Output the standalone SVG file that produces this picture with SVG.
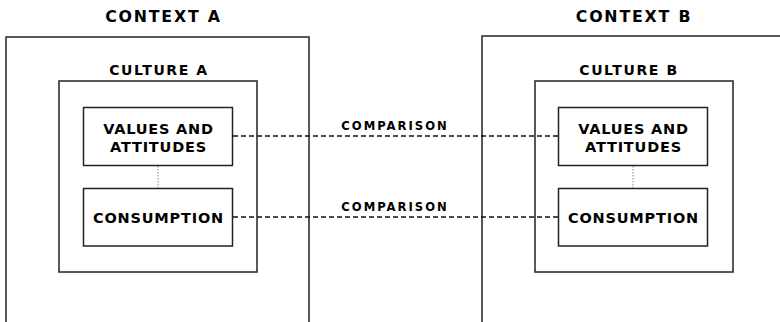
<svg xmlns="http://www.w3.org/2000/svg" width="780" height="322" viewBox="0 0 780 322">
  <style>
    .frame { fill: none; stroke: #222; stroke-width: 1.5; }
    .box { fill: #fff; stroke: #222; stroke-width: 1.5; }
    .title { font-family: "DejaVu Sans", Verdana, sans-serif; font-weight: bold; fill: #000; text-anchor: middle; }
    .h1 { font-size: 15.8px; letter-spacing: 1.8px; }
    .h2 { font-size: 14px; letter-spacing: 1.6px; }
    .lbl { font-size: 14.5px; letter-spacing: 0.8px; }
    .cmp { font-size: 11.6px; letter-spacing: 2px; }
    .dash { fill: none; stroke: #111; stroke-width: 1.5; stroke-dasharray: 5 3; }
    .dot { fill: none; stroke: #888; stroke-width: 1; stroke-dasharray: 1.5 1.5; }
  </style>

  <!-- Context A -->
  <g id="context-a">
    <path class="frame" d="M6,324 V37 H309 V324"/>
    <text class="title h1" x="163.5" y="22.3">CONTEXT A</text>
  </g>

  <!-- Context B -->
  <g id="context-b">
    <path class="frame" d="M482,324 V36 H782"/>
    <text class="title h1" x="634" y="22.3">CONTEXT B</text>
  </g>

  <!-- Culture A -->
  <g id="culture-a">
    <rect class="frame" x="59" y="81" width="198" height="191"/>
    <text class="title h2" x="159" y="75">CULTURE A</text>
  </g>

  <!-- Culture B -->
  <g id="culture-b">
    <rect class="frame" x="535" y="81" width="198" height="191"/>
    <text class="title h2" x="629" y="75">CULTURE B</text>
  </g>

  <!-- Connectors -->
  <g id="connectors">
    <line class="dot" x1="158" y1="166" x2="158" y2="188"/>
    <line class="dot" x1="633" y1="166" x2="633" y2="188"/>
    <line class="dash" x1="233" y1="136" x2="558" y2="136"/>
    <line class="dash" x1="233" y1="217" x2="558" y2="217"/>
    <text class="title cmp" x="395" y="130">COMPARISON</text>
    <text class="title cmp" x="395" y="210.5">COMPARISON</text>
  </g>

  <!-- Culture A contents -->
  <g id="values-a">
    <rect class="box" x="83.5" y="107.5" width="149" height="58"/>
    <text class="title lbl" x="158.5" y="134">VALUES AND</text>
    <text class="title lbl" x="158.5" y="151.5">ATTITUDES</text>
  </g>
  <g id="consumption-a">
    <rect class="box" x="83.5" y="188.5" width="149" height="57.5"/>
    <text class="title lbl" x="158.5" y="222.7">CONSUMPTION</text>
  </g>

  <!-- Culture B contents -->
  <g id="values-b">
    <rect class="box" x="558.5" y="107.5" width="149" height="58"/>
    <text class="title lbl" x="633.5" y="134">VALUES AND</text>
    <text class="title lbl" x="633.5" y="151.5">ATTITUDES</text>
  </g>
  <g id="consumption-b">
    <rect class="box" x="558.5" y="188.5" width="149" height="57.5"/>
    <text class="title lbl" x="633.5" y="222.7">CONSUMPTION</text>
  </g>
</svg>
